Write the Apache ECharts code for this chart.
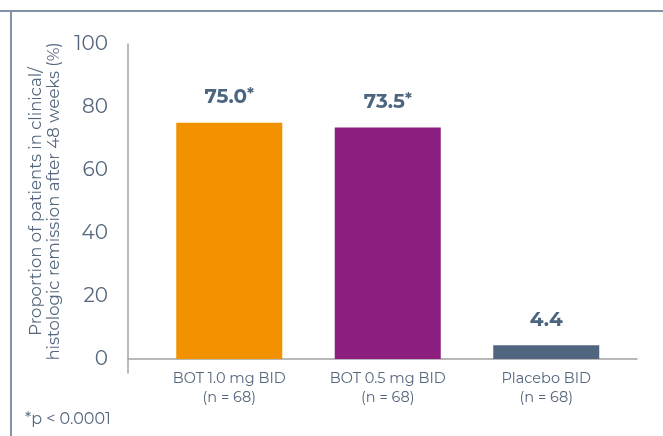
<!DOCTYPE html>
<html><head><meta charset="utf-8">
<script src="https://cdn.jsdelivr.net/npm/echarts@6/dist/echarts.min.js"></script>
<style>html,body{margin:0;padding:0;background:#fff}#c{width:663px;height:436px}</style>
</head><body><div id="c"></div>
<script>
var categories = ['BOT 1.0 mg BID\n(n = 68)', 'BOT 0.5 mg BID\n(n = 68)', 'Placebo BID\n(n = 68)'];
var values = [75.0, 73.5, 4.4];
var valueLabels = ['75.0', '73.5', '4.4'];
var significant = [true, true, false];
var barColors = ['#f39200', '#8b1e7f', '#506580'];
var yTicks = [0, 20, 40, 60, 80, 100];
var yTitle = 'Proportion of patients in clinical/\nhistologic remission after 48 weeks (%)';
var footnote = '*p < 0.0001';

var textColor = '#55677e';
var font = 'Montserrat, "Noto Sans", Lato, sans-serif';
var chart = echarts.init(document.getElementById('c'));
chart.setOption({
  animation: false,
  textStyle: {fontFamily: font},
  grid: [
    {left: 150, right: 37.5, top: 44, bottom: 77},
    {left: 128, right: 26, top: 44, bottom: 63}
  ],
  xAxis: [
    {type: 'category', gridIndex: 0, data: categories,
      axisLine: {show: false}, axisTick: {show: false},
      axisLabel: {color: textColor, fontSize: 14.5, margin: 10, lineHeight: 19, fontWeight: 400, fontFamily: font}},
    {type: 'value', gridIndex: 1, min: 0, max: 1,
      axisLine: {show: true, onZero: true, lineStyle: {color: '#a3a3a3', width: 1.5}},
      axisTick: {show: false}, axisLabel: {show: false}, splitLine: {show: false}}
  ],
  yAxis: [
    {type: 'value', gridIndex: 0, min: 0, max: 100, interval: 20,
      axisLine: {show: false}, axisTick: {show: false}, splitLine: {show: false},
      axisLabel: {color: textColor, fontSize: 20, fontWeight: 400, margin: 42, fontFamily: font,
        formatter: function (v) { return yTicks.indexOf(v) >= 0 ? String(v) : ''; }},
      name: yTitle, nameLocation: 'middle', nameGap: 80, nameRotate: 90,
      nameTextStyle: {color: textColor, fontSize: 16.5, fontWeight: 400, lineHeight: 18, fontFamily: font}},
    {type: 'value', gridIndex: 1, min: -4.444, max: 100,
      axisLine: {show: true, lineStyle: {color: '#a3a3a3', width: 1.5}},
      axisTick: {show: false}, axisLabel: {show: false}, splitLine: {show: false}}
  ],
  series: [{
    type: 'bar', xAxisIndex: 0, yAxisIndex: 0, barWidth: 106,
    data: values.map(function (v, i) {
      return {value: v, itemStyle: {color: barColors[i]}};
    }),
    label: {
      show: true, position: 'top', distance: 15,
      formatter: function (p) {
        return '{v|' + valueLabels[p.dataIndex] + '}' + (significant[p.dataIndex] ? '{s|*}' : '');
      },
      rich: {
        v: {fontSize: 20, fontWeight: 'bold', color: '#4e6580', fontFamily: font},
        s: {fontSize: 16, fontWeight: 'bold', color: '#4e6580', fontFamily: font, verticalAlign: 'top', padding: [0, 0, 5, 0]}
      }
    }
  }],
  graphic: [
    {type: 'line', shape: {x1: 0, y1: 11, x2: 663, y2: 11}, style: {stroke: '#8593a8', lineWidth: 2}},
    {type: 'line', shape: {x1: 11, y1: 10, x2: 11, y2: 436}, style: {stroke: '#8593a8', lineWidth: 2}},
    {type: 'text', left: 25, top: 411, style: {text: footnote, fill: textColor, fontSize: 16, fontWeight: 400, fontFamily: font}}
  ]
});
</script></body></html>
